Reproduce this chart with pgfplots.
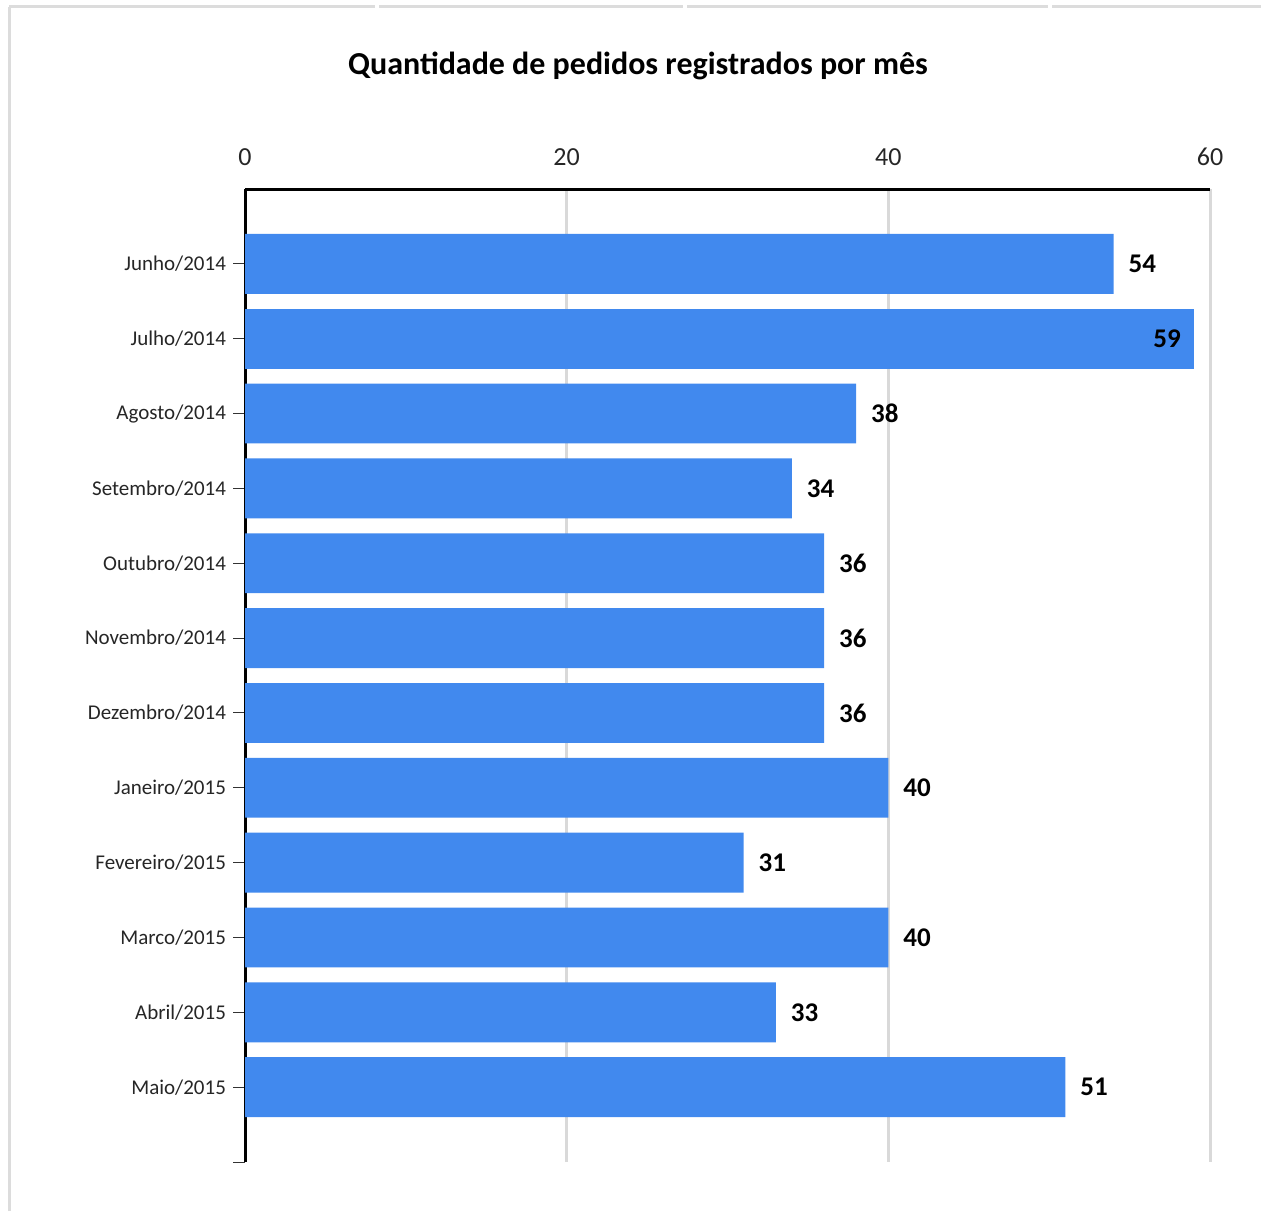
\documentclass[border=0pt]{standalone}
\usepackage{fontspec}
\setmainfont{Carlito}
\usepackage{pgfplots}
\pgfplotsset{compat=1.18}
\definecolor{barblue}{RGB}{65,137,238}
\definecolor{gridgray}{RGB}{217,217,217}
\definecolor{framegray}{RGB}{220,220,220}
\begin{document}
\begin{tikzpicture}
\path[use as bounding box] (0,0) rectangle (630.5pt,605.5pt);
% outer frame (left and top)
\draw[framegray, line width=1.5pt] (4.5pt,0) -- (4.5pt,602pt);
\draw[framegray, line width=1.5pt] (4.5pt,602pt) -- (187.5pt,602pt);
\draw[framegray, line width=1.5pt] (189.5pt,602pt) -- (341.5pt,602pt);
\draw[framegray, line width=1.5pt] (343.5pt,602pt) -- (524pt,602pt);
\draw[framegray, line width=1.5pt] (526pt,602pt) -- (630.5pt,602pt);
\node[font=\fontsize{16pt}{19pt}\selectfont\bfseries] at (319pt,572.5pt) {Quantidade de pedidos registrados por mês};
\begin{axis}[
  at={(122.5pt,24.5pt)}, anchor=south west,
  scale only axis, width=482.5pt, height=486.5pt,
  xbar, bar width=0.8, bar shift=0pt,
  xmin=0, xmax=60, ymin=-1, ymax=12,
  y dir=reverse,
  axis x line*=top, axis y line*=left,
  x axis line style={black, line width=1.5pt},
  y axis line style={black, line width=1.5pt},
  xtick={0,20,40,60},
  xmajorgrids, major grid style={gridgray, line width=1.5pt},
  xtick style={gridgray, line width=1.5pt},
  major tick length=6pt,
  ytick={0,...,11},
  yticklabels={Junho/2014,Julho/2014,Agosto/2014,Setembro/2014,Outubro/2014,Novembro/2014,Dezembro/2014,Janeiro/2015,Fevereiro/2015,Marco/2015,Abril/2015,Maio/2015},
  ytick style={black!80, line width=0.5pt},
  extra y ticks={12}, extra y tick labels={},
  extra y tick style={ytick style={black!80, line width=0.5pt}},
  y tick label style={font=\fontsize{10.5pt}{12pt}\selectfont, text=black!85},
  x tick label style={font=\fontsize{13pt}{15pt}\selectfont, text=black!85, yshift=8pt},
  /pgf/number format/assume math mode=true,
  nodes near coords,
  every node near coord/.append style={font=\fontsize{13.5pt}{15pt}\selectfont\bfseries, black, anchor=west, xshift=4pt},
  clip=false,
]
\addplot[fill=barblue, draw=none] coordinates {
(54,0) (38,2) (34,3) (36,4) (36,5) (36,6) (40,7) (31,8) (40,9) (33,10) (51,11)
};
\addplot[fill=barblue, draw=none, every node near coord/.append style={anchor=east, xshift=-7pt}] coordinates {
(59,1)
};
\end{axis}
\end{tikzpicture}
\end{document}
